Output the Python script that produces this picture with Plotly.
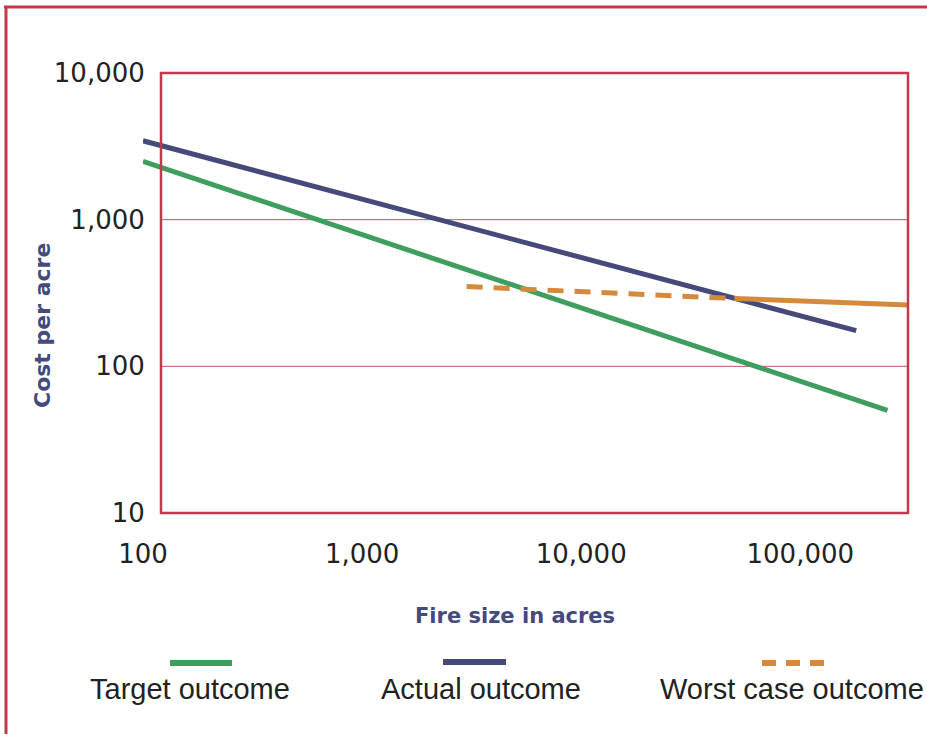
import plotly.graph_objects as go

# ---- data ----
target_acres = [100, 250000]
target_cost = [2500, 50]

actual_acres = [100, 180000]
actual_cost = [3450, 175]

worst_dashed_acres = [3000, 50000]
worst_dashed_cost = [350, 290]
worst_solid_acres = [50000, 310000]
worst_solid_cost = [290, 262]

x_tickvals = [100, 1000, 10000, 100000]
x_ticktext = ["100", "1,000", "10,000", "100,000"]
y_tickvals = [10, 100, 1000, 10000]
y_ticktext = ["10", "100", "1,000", "10,000"]

legend_names = ["Target outcome", "Actual outcome", "Worst case outcome"]

# ---- style ----
GREEN = "#3f9e5f"
BLUE = "#464a7a"
ORANGE = "#d4893d"
RED = "#c1394b"
TITLE = "#454a7b"

W, H = 927, 734
L, R, T, B = 143, 908, 73, 513


def px(x):
    return (x - L) / (R - L)


def py(y):
    return 1 - (y - T) / (B - T)


fig = go.Figure()
fig.add_trace(go.Scatter(x=target_acres, y=target_cost, mode="lines",
                         line=dict(color=GREEN, width=5), name=legend_names[0]))
fig.add_trace(go.Scatter(x=actual_acres, y=actual_cost, mode="lines",
                         line=dict(color=BLUE, width=5), name=legend_names[1]))
fig.add_trace(go.Scatter(x=worst_dashed_acres, y=worst_dashed_cost, mode="lines",
                         line=dict(color=ORANGE, width=5, dash="16px,11px"),
                         name=legend_names[2]))
fig.add_trace(go.Scatter(x=worst_solid_acres, y=worst_solid_cost, mode="lines",
                         line=dict(color=ORANGE, width=5), name=legend_names[2]))

shapes = []
# outer frame
shapes.append(dict(type="line", xref="paper", yref="paper", x0=px(4), x1=px(930),
                   y0=py(7), y1=py(7), line=dict(color=RED, width=3)))
shapes.append(dict(type="line", xref="paper", yref="paper", x0=px(6), x1=px(6),
                   y0=py(6), y1=py(740), line=dict(color=RED, width=3)))
# grid lines
for yv in [2 / 3, 1 / 3]:
    shapes.append(dict(type="line", xref="paper", yref="paper", x0=px(161), x1=1,
                       y0=yv, y1=yv, line=dict(color="#c9505f", width=1), layer="below"))
# plot box
shapes.append(dict(type="rect", xref="paper", yref="paper", x0=px(161), x1=1,
                   y0=0, y1=1, line=dict(color=RED, width=2.5), layer="above"))
# legend swatches
shapes.append(dict(type="line", xref="paper", yref="paper", x0=px(170), x1=px(232),
                   y0=py(663), y1=py(663), line=dict(color=GREEN, width=6)))
shapes.append(dict(type="line", xref="paper", yref="paper", x0=px(443), x1=px(506),
                   y0=py(662), y1=py(662), line=dict(color=BLUE, width=6)))
shapes.append(dict(type="line", xref="paper", yref="paper", x0=px(762), x1=px(825),
                   y0=py(663), y1=py(663),
                   line=dict(color=ORANGE, width=6, dash="14px,10px")))

legend_font = dict(family="Liberation Sans, Arial, sans-serif", size=29, color="#222222")
annotations = [
    dict(text=legend_names[0], x=px(190), y=py(689), xref="paper", yref="paper",
         showarrow=False, xanchor="center", yanchor="middle", font=legend_font),
    dict(text=legend_names[1], x=px(481), y=py(689), xref="paper", yref="paper",
         showarrow=False, xanchor="center", yanchor="middle", font=legend_font),
    dict(text=legend_names[2], x=px(792), y=py(689), xref="paper", yref="paper",
         showarrow=False, xanchor="center", yanchor="middle", font=legend_font),
    dict(text="<b>Fire size in acres</b>", x=px(515), y=py(616), xref="paper", yref="paper",
         showarrow=False, xanchor="center", yanchor="middle",
         font=dict(family="DejaVu Sans", size=21, color=TITLE)),
    dict(text="<b>Cost per acre</b>", x=px(42), y=py(326), xref="paper", yref="paper",
         showarrow=False, xanchor="center", yanchor="middle", textangle=-90,
         font=dict(family="DejaVu Sans", size=22, color=TITLE)),
]

tick_font = dict(family="DejaVu Sans", size=26, color="#222222")

fig.update_layout(
    width=W, height=H, autosize=False,
    margin=dict(l=L, r=W - R, t=T, b=H - B, pad=0),
    paper_bgcolor="white", plot_bgcolor="white",
    showlegend=False,
    shapes=shapes, annotations=annotations,
    xaxis=dict(type="log", range=[2, 2 + (R - L) / 219.1], tickvals=x_tickvals,
               ticktext=x_ticktext, showgrid=False, zeroline=False, showline=False,
               ticks="outside", ticklen=18, tickcolor="rgba(0,0,0,0)",
               tickfont=tick_font, fixedrange=True),
    yaxis=dict(type="log", range=[1, 4], tickvals=y_tickvals, ticktext=y_ticktext,
               showgrid=False, zeroline=False, showline=False,
               anchor="free", position=px(161),
               ticks="outside", ticklen=11, tickcolor="rgba(0,0,0,0)",
               tickfont=tick_font, fixedrange=True),
)

fig.write_html(
    "out.html",
    config={"displayModeBar": False},
    post_script="document.body.style.margin='0px';document.body.style.overflow='hidden';",
)
